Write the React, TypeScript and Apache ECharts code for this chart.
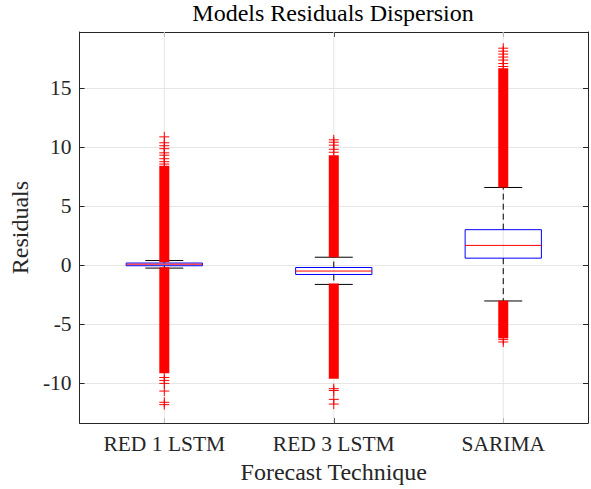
import React, { useEffect, useRef } from "react";
import * as echarts from "echarts";

const categories = ["RED 1 LSTM", "RED 3 LSTM", "SARIMA"];
const whiskerLow = [-0.25, -1.63, -3.03];
const q1 = [-0.05, -0.79, 0.59];
const median = [0.08, -0.5, 1.67];
const q3 = [0.18, -0.2, 3.0];
const whiskerHigh = [0.39, 0.67, 6.57];
// dense runs of overlapping outlier crosses: [from, to] (outer edges of the red column)
const denseHigh = [
  [0.25, 8.4],
  [0.67, 9.3],
  [6.57, 16.65],
];
const denseLow = [
  [-0.17, -9.15],
  [-1.55, -9.6],
  [-3.0, -6.2],
];
// individually visible outliers
const sparseOutliers = [
  [10.85, 10.35, 10.1, 9.85, 9.5, 9.3, 9.0, 8.75, 8.55, -9.5, -9.75, -10.0, -10.65, -11.6, -11.8],
  [10.6, 10.4, 10.15, 9.8, 9.55, -10.45, -10.6, -11.35, -11.75],
  [18.35, 18.1, 17.85, 17.6, 17.35, 17.05, 16.8, -6.3, -6.5],
];
const yMin = -13.36;
const yMax = 19.72;

const FONT = "Liberation Serif";
const AX = "#262626";
const GRID = "#e6e6e6";

export default function App() {
  const ref = useRef<HTMLDivElement>(null);
  useEffect(() => {
    if (!ref.current) return;
    const chart = echarts.init(ref.current, undefined, { renderer: "svg" });

    const boxData = categories.map((_, i) => [i, whiskerLow[i], q1[i], median[i], q3[i], whiskerHigh[i]]);
    const denseData: number[][] = [];
    categories.forEach((_, i) => {
      denseData.push([i, denseHigh[i][0], denseHigh[i][1]]);
      denseData.push([i, denseLow[i][0], denseLow[i][1]]);
    });
    const outlierData: number[][] = [];
    sparseOutliers.forEach((arr, i) => arr.forEach((v) => outlierData.push([i, v])));

    const baseX = {
      type: "category" as const,
      data: categories,
      boundaryGap: true,
      axisLine: { show: true, onZero: false, lineStyle: { color: AX, width: 1 } },
      axisTick: { show: true, inside: true, alignWithLabel: true, length: 5, lineStyle: { color: AX } },
      splitLine: { show: false },
    };
    const baseY = {
      type: "value" as const,
      min: yMin,
      max: yMax,
      minInterval: 5,
      maxInterval: 5,
      axisLine: { show: true, onZero: false, lineStyle: { color: AX, width: 1 } },
      axisTick: { show: true, inside: true, length: 5, lineStyle: { color: AX } },
    };

    chart.setOption({
      animation: false,
      title: {
        text: "Models Residuals Dispersion",
        left: 333,
        textAlign: "center",
        top: 1,
        padding: 0,
        textStyle: { fontFamily: FONT, fontSize: 24, fontWeight: "normal", color: "#000" },
      },
      grid: { left: 79, right: 3, top: 32, bottom: 64, containLabel: false },
      xAxis: [
        {
          ...baseX,
          position: "bottom",
          name: "Forecast Technique",
          nameLocation: "middle",
          nameGap: 36,
          nameTextStyle: { fontFamily: FONT, fontSize: 24, color: AX },
          axisLabel: { fontFamily: FONT, fontSize: 21.5, color: AX, margin: 10 },
        },
        {
          ...baseX,
          position: "top",
          axisLabel: { show: false },
        },
      ],
      yAxis: [
        {
          ...baseY,
          position: "left",
          name: "Residuals",
          nameLocation: "middle",
          nameGap: 44,
          nameTextStyle: { fontFamily: FONT, fontSize: 24, color: AX },
          axisLabel: {
            fontFamily: FONT,
            fontSize: 21.5,
            color: AX,
            margin: 8,
            showMinLabel: false,
            showMaxLabel: false,
          },
          splitLine: { show: true, lineStyle: { color: GRID, width: 1 } },
        },
        {
          ...baseY,
          position: "right",
          axisLabel: { show: false },
          splitLine: { show: false },
        },
      ],
      series: [
        {
          type: "custom",
          z: 2,
          xAxisIndex: 0,
          yAxisIndex: 0,
          data: boxData,
          encode: { x: 0, y: [1, 2, 3, 4, 5] },
          renderItem: (params: any, api: any) => {
            const i = api.value(0);
            const band = api.size([1, 0])[0];
            const hb = band * 0.225;
            const hc = band * 0.112;
            const c = (v: number) => api.coord([i, v]);
            const [cx, yWl] = c(api.value(1));
            const yQ1 = c(api.value(2))[1];
            const yMed = c(api.value(3))[1];
            const yQ3 = c(api.value(4))[1];
            const yWh = c(api.value(5))[1];
            const yTop = c(yMax)[1];
            const yBot = c(yMin)[1];
            const dash = { stroke: "#000", lineWidth: 1, lineDash: [6, 4] };
            return {
              type: "group",
              children: [
                { type: "line", shape: { x1: cx, y1: yTop, x2: cx, y2: yBot }, style: { stroke: GRID, lineWidth: 1 } },
                { type: "line", shape: { x1: cx, y1: yQ3, x2: cx, y2: yWh }, style: dash },
                { type: "line", shape: { x1: cx, y1: yQ1, x2: cx, y2: yWl }, style: dash },
                { type: "line", shape: { x1: cx - hc, y1: yWh, x2: cx + hc, y2: yWh }, style: { stroke: "#000", lineWidth: 1 } },
                { type: "line", shape: { x1: cx - hc, y1: yWl, x2: cx + hc, y2: yWl }, style: { stroke: "#000", lineWidth: 1 } },
                {
                  type: "rect",
                  shape: { x: cx - hb, y: yQ3, width: 2 * hb, height: yQ1 - yQ3 },
                  style: { fill: "none", stroke: "#0000ff", lineWidth: 1 },
                },
                { type: "line", shape: { x1: cx - hb, y1: yMed, x2: cx + hb, y2: yMed }, style: { stroke: "#ff0000", lineWidth: 1 } },
              ],
            };
          },
        },
        {
          type: "custom",
          z: 3,
          data: denseData,
          encode: { x: 0, y: [1, 2] },
          renderItem: (params: any, api: any) => {
            const i = api.value(0);
            const a = api.coord([i, api.value(1)]);
            const b = api.coord([i, api.value(2)]);
            const top = Math.min(a[1], b[1]);
            const bot = Math.max(a[1], b[1]);
            return {
              type: "rect",
              shape: { x: a[0] - 5, y: top, width: 10, height: bot - top },
              style: { fill: "#ff0000" },
            };
          },
        },
        {
          type: "custom",
          z: 4,
          data: outlierData,
          encode: { x: 0, y: 1 },
          renderItem: (params: any, api: any) => {
            const [x, y] = api.coord([api.value(0), api.value(1)]);
            const st = { stroke: "#ff0000", lineWidth: 1 };
            return {
              type: "group",
              children: [
                { type: "line", shape: { x1: x - 5, y1: y, x2: x + 5, y2: y }, style: st },
                { type: "line", shape: { x1: x, y1: y - 5, x2: x, y2: y + 5 }, style: st },
              ],
            };
          },
        },
      ],
    });
    return () => chart.dispose();
  }, []);
  return (
    <div
      ref={ref}
      style={{ position: "fixed", left: 0, top: 0, width: 591, height: 489, background: "#fff" }}
    />
  );
}
